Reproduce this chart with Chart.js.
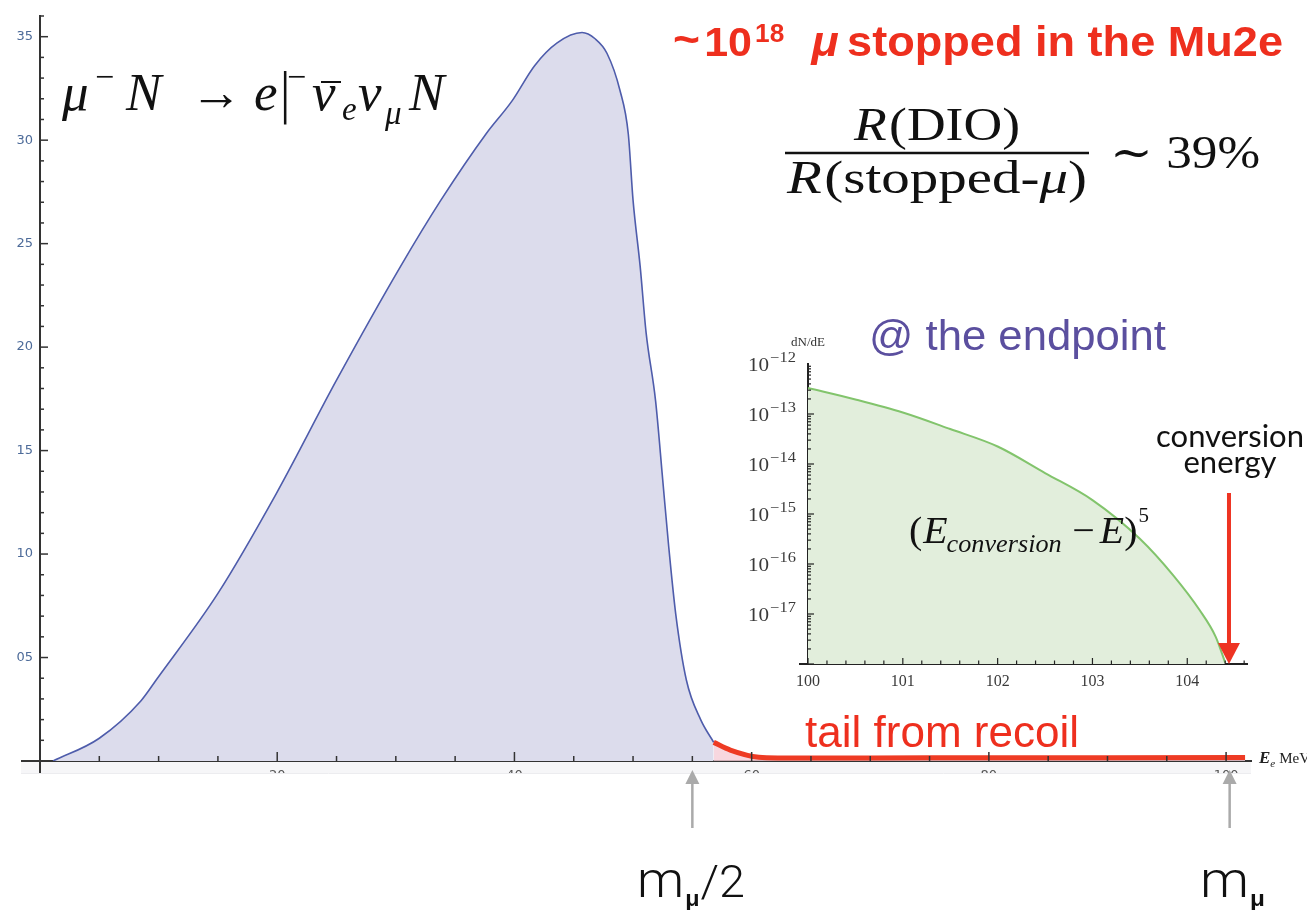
<!DOCTYPE html>
<html>
<head>
<meta charset="utf-8">
<script src="https://cdn.jsdelivr.net/npm/chart.js@4.4.0/dist/chart.umd.min.js"></script>
<style>
    body { margin: 0; background: #fff; }
    #wrap { position: relative; width: 1307px; height: 910px; overflow: hidden; }
    #main { position: absolute; left: 0; top: 0; }
    #inset { position: absolute; left: 720px; top: 300px; }
</style>
</head>
<body>
<div id="wrap">
    <canvas id="main" width="1307" height="910"></canvas>
    <canvas id="inset" width="587" height="400"></canvas>
</div>
<script>
// Main panel: DIO spectrum (E_e in MeV)
const dioEnergy = [1.1, 5, 8.5, 9.9, 15, 19.9, 25, 30.4, 33.8, 37.6, 39.8, 41.7, 43.6, 45.7, 46.8, 47.8, 48.9, 49.6, 50, 50.6, 51.1, 51.9, 52.5, 53, 53.6, 54.5, 55.7, 56.8];
const dioRate = [0, 0.0011, 0.0029, 0.004, 0.0081, 0.0129, 0.0184, 0.0239, 0.0271, 0.0303, 0.0319, 0.0336, 0.0347, 0.0352, 0.0349, 0.0342, 0.0324, 0.0303, 0.0271, 0.0239, 0.0207, 0.0174, 0.0136, 0.0104, 0.0071, 0.0039, 0.002, 0.0009];

// recoil tail (red)
const tailEnergy = [56.8, 58.2, 60.6, 62.2, 70, 80, 90, 101.6];
const tailRate = [0.0009, 0.00053, 0.00018, 0.00015, 0.00015, 0.00016, 0.00016, 0.00017];

// Inset: spectrum near the endpoint (log scale)
const endEnergy = [100, 100.5, 101, 101.5, 102, 102.5, 103, 103.5, 103.85, 104.13, 104.3, 104.4];
const endRate = [3.3e-13, 1.95e-13, 1.07e-13, 5.0e-14, 2.24e-14, 6.6e-15, 1.9e-15, 3.2e-16, 6.0e-17, 1.2e-17, 3.5e-18, 1.07e-18];

const mainXRange = [0, 102.1];
const mainYRange = [0, 0.036];
const insetXRange = [100, 104.63];
const insetYRange = [1e-18, 1e-12];
const insetDecades = [-12, -13, -14, -15, -16, -17];

const arrowMarks = [55, 100.3];     // m_mu/2 and m_mu (as drawn on the slide)
const conversionEnergy = 104.44;

const SERIF = '"Liberation Serif", "DejaVu Serif", serif';
const SANS = '"Liberation Sans", Arial, sans-serif';
const RED = '#ee2f1e';
const cropY = 773;

function toPoints(xs, ys) {
    return xs.map((x, i) => ({ x: x, y: ys[i] }));
}

// draw a row of text pieces, optionally stretched to a given width
function drawRuns(ctx, runs, x, y, opts) {
    ctx.save();
    let total = 0;
    runs.forEach(r => { ctx.font = r[1]; total += ctx.measureText(r[0]).width + (r[3] || 0); });
    const k = opts.width ? opts.width / total : 1;
    let x0 = x;
    if (opts.align === 'center') x0 = x - total * k / 2;
    if (opts.align === 'right') x0 = x - total * k;
    ctx.translate(x0, y);
    ctx.scale(k, 1);
    ctx.fillStyle = opts.color || '#111';
    ctx.textBaseline = 'alphabetic';
    ctx.textAlign = 'left';
    let cx = 0;
    runs.forEach(r => {
        ctx.font = r[1];
        ctx.fillText(r[0], cx, r[2] || 0);
        cx += ctx.measureText(r[0]).width + (r[3] || 0);
    });
    ctx.restore();
}

// pieces placed one by one: [text, font, x, baseline]
function drawPieces(ctx, pieces, color) {
    ctx.save();
    ctx.fillStyle = color;
    ctx.textBaseline = 'alphabetic';
    ctx.textAlign = 'left';
    pieces.forEach(p => { ctx.font = p[1]; ctx.fillText(p[0], p[2], p[3]); });
    ctx.restore();
}

function line(ctx, x1, y1, x2, y2, color, w) {
    ctx.beginPath();
    ctx.moveTo(x1, y1);
    ctx.lineTo(x2, y2);
    ctx.strokeStyle = color;
    ctx.lineWidth = w;
    ctx.stroke();
}

function arrowUp(ctx, x, tip, len, color) {
    line(ctx, x, tip + 12, x, tip + len, color, 2.5);
    ctx.beginPath();
    ctx.moveTo(x, tip);
    ctx.lineTo(x - 7, tip + 14);
    ctx.lineTo(x + 7, tip + 14);
    ctx.closePath();
    ctx.fillStyle = color;
    ctx.fill();
}

const mainDecor = {
    id: 'mainDecor',
    beforeDraw(chart) {
        const { ctx, chartArea: a } = chart;
        const x0 = chart.scales.x.getPixelForValue(-1.6);
        ctx.save();
        ctx.fillStyle = '#f6f6f8';
        ctx.fillRect(x0, a.bottom + 1, a.right - x0, cropY - a.bottom - 1);
        ctx.restore();
    },
    afterDraw(chart) {
        const { ctx, chartArea: a } = chart;
        const xs = chart.scales.x, ys = chart.scales.y;
        ctx.save();

        // inward tick marks
        ys.ticks.forEach(t => {
            if (t.value <= 0) return;
            const py = ys.getPixelForValue(t.value);
            line(ctx, a.left, py, a.left + (t.label ? 8 : 4), py, '#333', 1.5);
        });
        xs.ticks.forEach(t => {
            if (t.value <= 0) return;
            const px = xs.getPixelForValue(t.value);
            line(ctx, px, a.bottom, px, a.bottom - (t.label ? 9 : 5), '#333', 1.5);
        });
        // axis lines past the origin
        line(ctx, xs.getPixelForValue(-1.6), a.bottom, a.left, a.bottom, '#333', 2);
        line(ctx, a.left, a.bottom, a.left, cropY, '#333', 2);

        // the slide crops the tick labels
        ctx.fillStyle = '#fff';
        ctx.fillRect(0, cropY, chart.width, 40);
        line(ctx, xs.getPixelForValue(-1.6), cropY + 0.5, a.right, cropY + 0.5, '#ececef', 1);

        // arrows to m_mu/2 and m_mu
        arrowMarks.forEach(v => arrowUp(ctx, xs.getPixelForValue(v), 770, 58, '#aaaaaa'));

        // axis title, cut at the right edge
        drawRuns(ctx, [['E', 'italic bold 17px ' + SERIF], ['e', 'italic 11px ' + SERIF, 4, 4], ['MeV', '15px ' + SERIF]], 1259, 763, { color: '#222' });

        // reaction
        const it = 'italic 53px ' + SERIF, up = '52px ' + SERIF, sup = '34px ' + SERIF, sub = 'italic 33px ' + SERIF;
        drawPieces(ctx, [
            ['μ', it, 62, 110], ['−', sup, 95, 88], ['N', it, 126, 110], ['→', up, 190, 110],
            ['e', it, 254, 110], ['|', '300 54px "DejaVu Sans"', 276, 112], ['−', sup, 287, 88],
            ['ν', it, 312, 110], ['e', sub, 342, 120], ['ν', it, 358, 110], ['μ', sub, 385, 124],
            ['N', it, 409, 110]
        ], '#111');
        line(ctx, 321, 82, 341, 82, '#111', 2);

        // red headline
        drawRuns(ctx, [
            ['~', 'bold 44px ' + SANS, -2, 4], ['10', 'bold 41px ' + SANS, 0, 3],
            ['18', 'bold 25px ' + SANS, -14, 26], ['μ', 'italic bold 43px ' + SANS, 0, 8],
            ['stopped in the Mu2e', 'bold 43px ' + SANS]
        ], 673, 56, { width: 610, color: RED });

        // branching ratio
        const fi = 'italic 46px ' + SERIF, fu = '46px ' + SERIF;
        drawRuns(ctx, [['R', fi, 0, 2], ['(DIO)', fu]], 937, 140, { width: 166, align: 'center' });
        line(ctx, 785, 153, 1089, 153, '#111', 2.5);
        drawRuns(ctx, [['R', fi, 0, 2], ['(stopped-', fu], ['μ', fi], [')', fu]], 937, 193, { width: 300, align: 'center' });
        drawRuns(ctx, [['∼', fu, 0, 12], ['39%', fu]], 1110, 168, { width: 150 });

        // recoil tail
        drawRuns(ctx, [['tail from recoil', '44px ' + SANS]], 805, 747, { width: 274, color: RED });

        // masses below the axis
        const lt = '300 50px Roboto, ' + SANS, sb = 'bold 22px ' + SANS;
        drawRuns(ctx, [['m', lt, 0, 1], ['μ', sb, 9, 1], ['/2', '300 44px Roboto, ' + SANS]], 637, 897, { width: 108 });
        drawRuns(ctx, [['m', lt, 0, 1], ['μ', sb, 9, 0]], 1200, 897, { width: 65 });

        ctx.restore();
    }
};

const insetDecor = {
    id: 'insetDecor',
    afterDraw(chart) {
        const { ctx, chartArea: a } = chart;
        const xs = chart.scales.x, ys = chart.scales.y;
        ctx.save();

        // log ticks on the y axis
        for (let e = -18; e < -12; e++) {
            for (let m = 1; m < 10; m++) {
                const py = ys.getPixelForValue(m * Math.pow(10, e));
                line(ctx, a.left, py, a.left + (m === 1 ? 6 : 3), py, '#222', 1.2);
            }
        }
        xs.ticks.forEach(t => {
            const px = xs.getPixelForValue(t.value);
            line(ctx, px, a.bottom, px, a.bottom - (t.label ? 6 : 3.5), '#222', 1.2);
        });
        line(ctx, a.left - 9, a.bottom, a.left, a.bottom, '#222', 2);

        insetDecades.forEach(e => {
            const py = ys.getPixelForValue(Math.pow(10, e));
            drawRuns(ctx, [['10', '18px ' + SERIF, 7, 1], ['−' + Math.abs(e), '14px ' + SERIF, -2]], a.left - 12, py, { width: 48, align: 'right', color: '#3a3a3a' });
        });
        drawRuns(ctx, [['dN/dE', '13px ' + SERIF]], a.left, 46, { align: 'center', color: '#333' });

        drawRuns(ctx, [['@ the endpoint', '43px ' + SANS]], 149, 50, { width: 297, color: '#5b4f9f' });

        drawRuns(ctx, [['conversion', '31px Lato, ' + SANS]], 510, 147, { align: 'center', color: '#111' });
        drawRuns(ctx, [['energy', '31px Lato, ' + SANS]], 510, 173, { align: 'center', color: '#111' });

        // conversion energy arrow
        const cx = xs.getPixelForValue(conversionEnergy);
        line(ctx, cx, 193, cx, a.bottom - 18, '#ee3322', 4);
        ctx.beginPath();
        ctx.moveTo(cx, a.bottom);
        ctx.lineTo(cx - 11, a.bottom - 21);
        ctx.lineTo(cx + 11, a.bottom - 21);
        ctx.closePath();
        ctx.fillStyle = '#ee3322';
        ctx.fill();

        drawRuns(ctx, [
            ['(', '38px ' + SERIF, 0, 1], ['E', 'italic 38px ' + SERIF, 0, -1],
            ['conversion', 'italic 25px ' + SERIF, 9, 10], ['−', '38px ' + SERIF, 0, 5],
            ['E', 'italic 38px ' + SERIF, 0, 0], [')', '38px ' + SERIF, 0, 1], ['5', '20px ' + SERIF, -21]
        ], 189, 243, { width: 240, color: '#111' });

        ctx.restore();
    }
};

new Chart(document.getElementById('main'), {
    type: 'line',
    data: {
        datasets: [
            {
                data: toPoints(tailEnergy, tailRate),
                borderColor: '#ee3b24',
                borderWidth: 5,
                backgroundColor: 'rgba(246, 205, 215, 0.8)',
                fill: 'origin',
                pointRadius: 0,
                cubicInterpolationMode: 'monotone'
            },
            {
                data: toPoints(dioEnergy, dioRate),
                borderColor: '#4e5cab',
                borderWidth: 1.6,
                backgroundColor: '#dcdcec',
                fill: 'origin',
                pointRadius: 0,
                cubicInterpolationMode: 'monotone'
            }
        ]
    },
    options: {
        responsive: false,
        animation: false,
        devicePixelRatio: 1,
        layout: { padding: { left: 0, top: 16, right: 56, bottom: 0 } },
        plugins: { legend: { display: false }, tooltip: { enabled: false } },
        scales: {
            x: {
                type: 'linear',
                min: mainXRange[0],
                max: mainXRange[1],
                grid: { display: false, drawTicks: false },
                border: { display: true, color: '#333', width: 2 },
                ticks: {
                    stepSize: 5,
                    includeBounds: false,
                    autoSkip: false,
                    maxRotation: 0,
                    padding: 7,
                    color: '#555',
                    font: { family: 'DejaVu Sans', size: 13 },
                    callback: v => (v > 0 && v % 20 === 0) ? String(v) : ''
                },
                afterFit: s => { s.height = 149; }
            },
            y: {
                type: 'linear',
                min: mainYRange[0],
                max: mainYRange[1],
                grid: { display: false, drawTicks: false },
                border: { display: true, color: '#333', width: 2 },
                ticks: {
                    stepSize: 0.001,
                    includeBounds: false,
                    autoSkip: false,
                    padding: 7,
                    color: '#4d6b99',
                    font: { family: 'DejaVu Sans', size: 13 },
                    callback: v => (v > 0 && Math.round(v * 1000) % 5 === 0) ? v.toFixed(3).slice(-2) : ''
                },
                afterFit: s => { s.width = 40; }
            }
        }
    },
    plugins: [mainDecor]
});

new Chart(document.getElementById('inset'), {
    type: 'line',
    data: {
        datasets: [{
            data: toPoints(endEnergy, endRate),
            borderColor: '#82c46c',
            borderWidth: 2,
            backgroundColor: '#e2eedc',
            fill: 'start',
            pointRadius: 0,
            cubicInterpolationMode: 'monotone'
        }]
    },
    options: {
        responsive: false,
        animation: false,
        devicePixelRatio: 1,
        layout: { padding: { left: 0, top: 64, right: 60, bottom: 0 } },
        plugins: { legend: { display: false }, tooltip: { enabled: false } },
        scales: {
            x: {
                type: 'linear',
                min: insetXRange[0],
                max: insetXRange[1],
                grid: { display: false, drawTicks: false },
                border: { display: true, color: '#222', width: 2 },
                ticks: {
                    stepSize: 0.2,
                    includeBounds: false,
                    autoSkip: false,
                    maxRotation: 0,
                    padding: 8,
                    color: '#3a3a3a',
                    font: { family: 'Liberation Serif', size: 16 },
                    callback: v => Math.abs(v - Math.round(v)) < 1e-6 ? String(Math.round(v)) : ''
                },
                afterFit: s => { s.height = 36; }
            },
            y: {
                type: 'logarithmic',
                min: insetYRange[0],
                max: insetYRange[1],
                grid: { display: false, drawTicks: false },
                border: { display: true, color: '#222', width: 2 },
                ticks: { display: false },
                afterFit: s => { s.width = 88; }
            }
        }
    },
    plugins: [insetDecor]
});
</script>
</body>
</html>
